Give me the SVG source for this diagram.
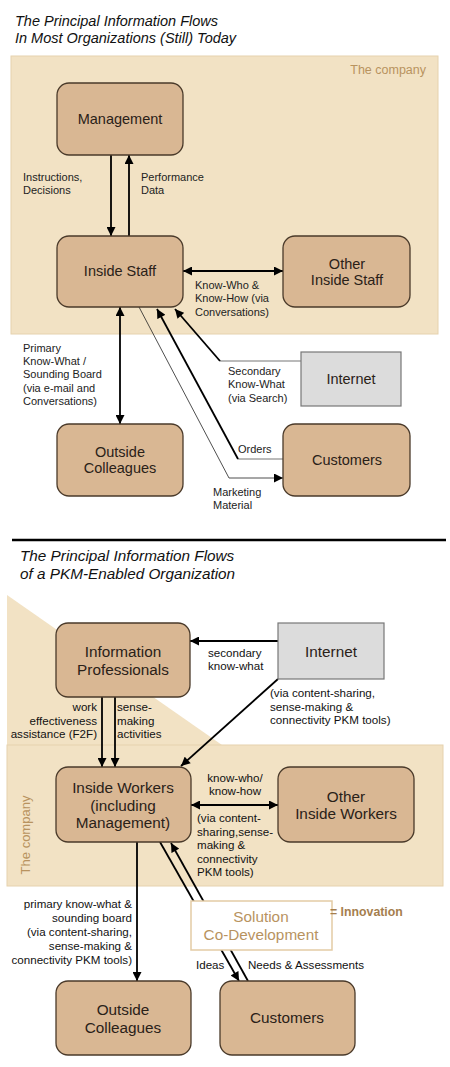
<svg xmlns="http://www.w3.org/2000/svg" width="450" height="1067" viewBox="0 0 450 1067">
<defs>
<style>
.title{font-family:"Liberation Sans",Arial,sans-serif;font-style:italic;fill:#111}
.node rect{fill:#d9b793;stroke:#4a3a2a;stroke-width:1.3}
.nt{font-family:"Liberation Sans",Arial,sans-serif;font-size:14.5px;fill:#2a2118;text-anchor:middle}
.nb{font-family:"Liberation Sans",Arial,sans-serif;font-size:15.3px;fill:#2a2118;text-anchor:middle}
.lbl{font-family:"Liberation Sans",Arial,sans-serif;font-size:11px;fill:#222}
.lb2{font-family:"Liberation Sans",Arial,sans-serif;font-size:11.6px;fill:#111}
.bg{fill:#f2e2c4;stroke:#e6d2ae;stroke-width:1}
.ar{stroke:#000;stroke-width:1.8;fill:none}
.thin{stroke:#222;stroke-width:0.8;fill:none}
.gr{stroke:#777;stroke-width:1.2;fill:none}
.co{font-family:"Liberation Sans",Arial,sans-serif;fill:#b8935f}
</style>
<marker id="ah" viewBox="0 0 10 10" refX="10" refY="5" markerWidth="10" markerHeight="9" markerUnits="userSpaceOnUse" orient="auto-start-reverse"><path d="M0,0 L10,5 L0,10 z" fill="#000"/></marker>
</defs>
<rect width="450" height="1067" fill="#fff"/>

<!-- Top section -->
<text class="title" x="15" y="26" font-size="14.5">The Principal Information Flows</text>
<text class="title" x="15" y="43" font-size="14.5">In Most Organizations (Still) Today</text>
<g id="company-top">
<rect class="bg" x="11" y="56" width="427" height="278"/>
<text class="co" x="426" y="74" font-size="12.5" text-anchor="end">The company</text>
</g>

<!-- Bottom section background -->
<line x1="12" y1="540" x2="446" y2="540" stroke="#000" stroke-width="2.5"/>
<text class="title" x="20" y="561" font-size="15.3">The Principal Information Flows</text>
<text class="title" x="20" y="579" font-size="15.3">of a PKM-Enabled Organization</text>
<g id="infoprof-area">
<polygon points="7,595 222,745 7,745" fill="#f2e2c4"/>
</g>
<g id="company-bottom">
<rect class="bg" x="7" y="745" width="436" height="141"/>
<text class="co" font-size="13" transform="translate(30,835) rotate(-90)" text-anchor="middle">The company</text>
</g>

<g id="connectors">
<!-- top -->
<line class="ar" x1="111" y1="155" x2="111" y2="236" marker-end="url(#ah)"/>
<line class="ar" x1="129" y1="236" x2="129" y2="155" marker-end="url(#ah)"/>
<line class="ar" x1="183" y1="271" x2="283" y2="271" marker-start="url(#ah)" marker-end="url(#ah)"/>
<line class="ar" x1="120" y1="307" x2="120" y2="424" marker-start="url(#ah)" marker-end="url(#ah)"/>
<polyline class="gr" points="301,361 220,361"/>
<line class="ar" x1="220" y1="361" x2="175" y2="309" marker-end="url(#ah)"/>
<polyline class="gr" points="283,459 238,459"/>
<line class="ar" x1="238" y1="459" x2="157" y2="309" marker-end="url(#ah)"/>
<polyline class="thin" points="139,307 229,478 283,478" marker-end="url(#ah)"/>
<!-- bottom -->
<line class="ar" x1="278" y1="641" x2="190" y2="641" marker-end="url(#ah)"/>
<line class="ar" x1="278" y1="679" x2="181" y2="766" marker-end="url(#ah)"/>
<line class="ar" x1="102" y1="697" x2="102" y2="767" marker-end="url(#ah)"/>
<line class="ar" x1="115" y1="697" x2="115" y2="767" marker-end="url(#ah)"/>
<line class="ar" x1="191" y1="805" x2="278" y2="805" marker-start="url(#ah)" marker-end="url(#ah)"/>
<line class="ar" x1="137" y1="842" x2="137" y2="981" marker-end="url(#ah)"/>
<line class="ar" x1="160" y1="842" x2="239" y2="981" marker-end="url(#ah)"/>
<line class="ar" x1="248" y1="981" x2="171" y2="843" marker-end="url(#ah)"/>
</g>

<g id="labels">
<text class="lbl" x="23" y="181">Instructions,</text>
<text class="lbl" x="23" y="194">Decisions</text>
<text class="lbl" x="141" y="181">Performance</text>
<text class="lbl" x="141" y="194">Data</text>
<text class="lbl" x="195" y="289">Know-Who &amp;</text>
<text class="lbl" x="195" y="302">Know-How (via</text>
<text class="lbl" x="195" y="316">Conversations)</text>
<text class="lbl" x="23" y="352">Primary</text>
<text class="lbl" x="23" y="365">Know-What /</text>
<text class="lbl" x="23" y="378">Sounding Board</text>
<text class="lbl" x="23" y="392">(via e-mail and</text>
<text class="lbl" x="23" y="405">Conversations)</text>
<text class="lbl" x="228" y="375">Secondary</text>
<text class="lbl" x="228" y="388">Know-What</text>
<text class="lbl" x="228" y="402">(via Search)</text>
<text class="lbl" x="238" y="453">Orders</text>
<text class="lbl" x="213" y="496">Marketing</text>
<text class="lbl" x="213" y="509">Material</text>

<text class="lb2" x="208" y="657">secondary</text>
<text class="lb2" x="208" y="670">know-what</text>
<text class="lb2" x="270" y="697">(via content-sharing,</text>
<text class="lb2" x="270" y="711">sense-making &amp;</text>
<text class="lb2" x="270" y="724">connectivity PKM tools)</text>
<text class="lb2" x="97" y="711" text-anchor="end">work</text>
<text class="lb2" x="97" y="725" text-anchor="end">effectiveness</text>
<text class="lb2" x="97" y="738" text-anchor="end">assistance (F2F)</text>
<text class="lb2" x="117" y="711">sense-</text>
<text class="lb2" x="117" y="725">making</text>
<text class="lb2" x="117" y="738">activities</text>
<text class="lb2" x="235" y="782" text-anchor="middle">know-who/</text>
<text class="lb2" x="235" y="795" text-anchor="middle">know-how</text>
<text class="lb2" x="197" y="822">(via content-</text>
<text class="lb2" x="197" y="836">sharing,sense-</text>
<text class="lb2" x="197" y="849">making &amp;</text>
<text class="lb2" x="197" y="863">connectivity</text>
<text class="lb2" x="197" y="876">PKM tools)</text>
<text class="lb2" x="132" y="908" text-anchor="end">primary know-what &amp;</text>
<text class="lb2" x="132" y="922" text-anchor="end">sounding board</text>
<text class="lb2" x="132" y="936" text-anchor="end">(via content-sharing,</text>
<text class="lb2" x="132" y="950" text-anchor="end">sense-making &amp;</text>
<text class="lb2" x="132" y="964" text-anchor="end">connectivity PKM tools)</text>
<text class="lb2" x="196" y="969">Ideas</text>
<text class="lb2" x="248" y="969">Needs &amp; Assessments</text>
</g>

<!-- top nodes -->
<g id="management" class="node"><rect x="57" y="83" width="126" height="72" rx="12"/><text class="nt" x="120" y="124">Management</text></g>
<g id="inside-staff" class="node"><rect x="57" y="236" width="126" height="71" rx="12"/><text class="nt" x="120" y="276">Inside Staff</text></g>
<g id="other-inside-staff" class="node"><rect x="283" y="236" width="127" height="71" rx="12"/><text class="nt" x="347" y="269">Other</text><text class="nt" x="347" y="285">Inside Staff</text></g>
<g id="internet-top"><rect x="301" y="352" width="100" height="54" fill="#dcdcdc" stroke="#777" stroke-width="1.2"/><text class="nt" x="351" y="384">Internet</text></g>
<g id="outside-colleagues-top" class="node"><rect x="57" y="424" width="126" height="72" rx="12"/><text class="nt" x="120" y="457">Outside</text><text class="nt" x="120" y="473">Colleagues</text></g>
<g id="customers-top" class="node"><rect x="283" y="424" width="127" height="72" rx="12"/><text class="nt" x="347" y="465">Customers</text></g>

<!-- bottom nodes -->
<g id="information-professionals" class="node"><rect x="56" y="623" width="134" height="74" rx="12"/><text class="nb" x="123" y="657">Information</text><text class="nb" x="123" y="675">Professionals</text></g>
<g id="internet-bottom"><rect x="278" y="623" width="106" height="56" fill="#dcdcdc" stroke="#777" stroke-width="1.2"/><text class="nb" x="331" y="657">Internet</text></g>
<g id="inside-workers" class="node"><rect x="56" y="767" width="135" height="75" rx="12"/><text class="nb" x="123" y="793">Inside Workers</text><text class="nb" x="123" y="811">(including</text><text class="nb" x="123" y="828">Management)</text></g>
<g id="other-inside-workers" class="node"><rect x="278" y="767" width="136" height="75" rx="12"/><text class="nb" x="346" y="802">Other</text><text class="nb" x="346" y="819">Inside Workers</text></g>
<g id="solution-codevelopment"><rect x="191" y="901" width="141" height="49" fill="#fff" stroke="#e3cba5" stroke-width="1.5"/><text class="nb" x="261" y="922" fill="#b8935f" style="fill:#b8935f">Solution</text><text class="nb" x="261" y="940" style="fill:#b8935f">Co-Development</text><text x="330" y="916" font-family="Liberation Sans, Arial, sans-serif" font-size="12.3" font-weight="bold" fill="#a57e4e">= Innovation</text></g>
<g id="outside-colleagues-bottom" class="node"><rect x="56" y="981" width="135" height="74" rx="12"/><text class="nb" x="123" y="1015">Outside</text><text class="nb" x="123" y="1033">Colleagues</text></g>
<g id="customers-bottom" class="node"><rect x="220" y="981" width="135" height="74" rx="12"/><text class="nb" x="287" y="1023">Customers</text></g>
</svg>
